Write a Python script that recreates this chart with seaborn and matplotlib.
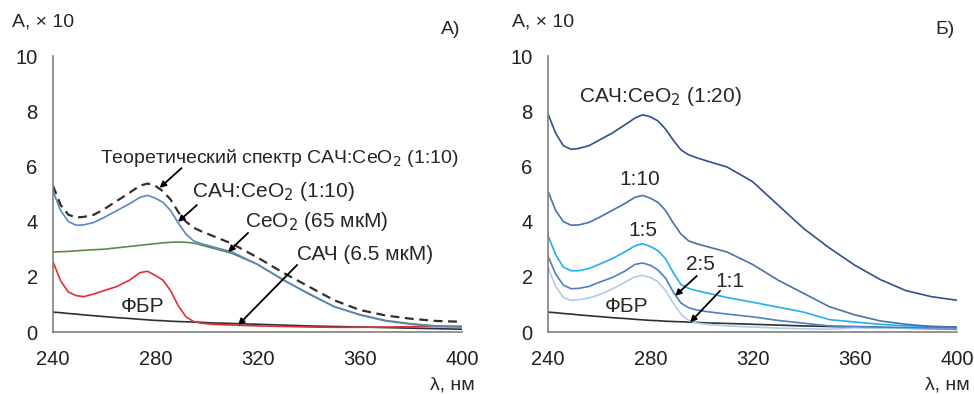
import numpy as np
import pandas as pd
import seaborn as sns
import matplotlib.pyplot as plt

# длины волн, нм
wl = [240, 243, 246, 249, 252, 256, 260, 265, 270, 274, 277, 280, 283, 286, 289,
      292, 295, 298, 302, 310, 320, 330, 340, 350, 360, 370, 380, 390, 400]

# А) спектры
theor_1_10 = [5.3, 4.6, 4.25, 4.15, 4.17, 4.25, 4.45, 4.75, 5.05, 5.3, 5.38, 5.3, 5.1, 4.8, 4.35,
              4.0, 3.78, 3.65, 3.5, 3.2, 2.7, 2.15, 1.65, 1.15, 0.8, 0.6, 0.48, 0.4, 0.37]
sac_ceo2_1_10 = [5.1, 4.4, 4.0, 3.87, 3.88, 3.97, 4.15, 4.4, 4.65, 4.88, 4.95, 4.85, 4.7, 4.4, 3.95,
                 3.55, 3.3, 3.2, 3.1, 2.9, 2.45, 1.88, 1.4, 0.92, 0.62, 0.4, 0.28, 0.2, 0.18]
ceo2 = [2.9, 2.91, 2.92, 2.94, 2.96, 2.98, 3.0, 3.05, 3.1, 3.14, 3.17, 3.2, 3.23, 3.25, 3.26,
        3.25, 3.22, 3.15, 3.05, 2.85, 2.45, 1.9, 1.38, 0.92, 0.63, 0.42, 0.3, 0.22, 0.2]
sac = [2.55, 1.85, 1.45, 1.32, 1.28, 1.38, 1.5, 1.65, 1.88, 2.15, 2.2, 2.05, 1.88, 1.5, 0.95,
       0.55, 0.38, 0.32, 0.28, 0.25, 0.22, 0.2, 0.18, 0.17, 0.17, 0.18, 0.19, 0.2, 0.2]
fbr = [0.72, 0.7, 0.67, 0.65, 0.62, 0.59, 0.56, 0.52, 0.49, 0.46, 0.44, 0.42, 0.41, 0.39, 0.38,
       0.37, 0.36, 0.35, 0.33, 0.31, 0.28, 0.25, 0.22, 0.2, 0.18, 0.16, 0.14, 0.12, 0.1]

# Б) разные соотношения
sac_ceo2_1_20 = [7.9, 7.2, 6.75, 6.62, 6.65, 6.75, 6.95, 7.2, 7.5, 7.75, 7.87, 7.8, 7.65, 7.35, 6.95,
                 6.6, 6.42, 6.32, 6.2, 5.98, 5.45, 4.6, 3.75, 3.05, 2.42, 1.9, 1.5, 1.28, 1.15]
sac_ceo2_1_5 = [3.5, 2.8, 2.35, 2.22, 2.22, 2.3, 2.45, 2.65, 2.9, 3.12, 3.2, 3.1, 2.95, 2.65, 2.15,
                1.72, 1.58, 1.5, 1.42, 1.25, 1.08, 0.9, 0.72, 0.45, 0.36, 0.28, 0.22, 0.2, 0.18]
sac_ceo2_2_5 = [2.75, 2.1, 1.7, 1.57, 1.58, 1.65, 1.8, 1.97, 2.2, 2.45, 2.5, 2.42, 2.25, 1.95, 1.45,
                1.05, 0.88, 0.8, 0.74, 0.65, 0.55, 0.42, 0.32, 0.22, 0.2, 0.18, 0.16, 0.15, 0.15]
sac_ceo2_1_1 = [2.35, 1.65, 1.25, 1.15, 1.17, 1.23, 1.35, 1.55, 1.8, 2.0, 2.05, 1.98, 1.82, 1.5, 1.05,
                0.65, 0.42, 0.33, 0.28, 0.22, 0.18, 0.14, 0.12, 0.1, 0.15, 0.14, 0.13, 0.12, 0.12]

xticks = [240, 280, 320, 360, 400]
yticks = [0, 2, 4, 6, 8, 10]

sns.set_style('white')
plt.rcParams['font.family'] = ['Liberation Sans', 'DejaVu Sans']

W, H = 974, 394
fig = plt.figure(figsize=(W / 100, H / 100), dpi=100)
axA = fig.add_axes([53 / W, 1 - 332 / H, 409 / W, 276 / H])
axB = fig.add_axes([548 / W, 1 - 332 / H, 409 / W, 276 / H])

lw = 1.2
sns.lineplot(x=wl, y=fbr, ax=axA, color='#303030', lw=lw)
sns.lineplot(x=wl, y=sac, ax=axA, color='#e03030', lw=lw)
sns.lineplot(x=wl, y=ceo2, ax=axA, color='#5f8a4a', lw=lw)
sns.lineplot(x=wl, y=sac_ceo2_1_10, ax=axA, color='#5a87c0', lw=lw)
sns.lineplot(x=wl, y=theor_1_10, ax=axA, color='#303030', lw=1.6, linestyle=(0, (4, 2.5)))

sns.lineplot(x=wl, y=fbr, ax=axB, color='#303030', lw=lw)
sns.lineplot(x=wl, y=sac_ceo2_1_1, ax=axB, color='#b0cbee', lw=lw)
sns.lineplot(x=wl, y=sac_ceo2_2_5, ax=axB, color='#4f7fc0', lw=lw)
sns.lineplot(x=wl, y=sac_ceo2_1_5, ax=axB, color='#1fb0f0', lw=lw)
sns.lineplot(x=wl, y=sac_ceo2_1_10, ax=axB, color='#4a72a8', lw=lw)
sns.lineplot(x=wl, y=sac_ceo2_1_20, ax=axB, color='#2f4f8f', lw=lw)

for ax in (axA, axB):
    ax.set_xlim(240, 400)
    ax.set_ylim(0, 10)
    ax.set_xticks(xticks)
    ax.set_yticks(yticks)
    sns.despine(ax=ax)
    for s in ('left', 'bottom'):
        ax.spines[s].set_color('#808080')
        ax.spines[s].set_linewidth(1.2)
    ax.tick_params(axis='both', direction='out', length=5, width=1.2, color='#808080',
                   labelsize=14.5, labelcolor='#202020')
    ax.tick_params(axis='y', pad=6)
    ax.tick_params(axis='x', pad=8)

# подписи осей и панелей (в пикселях)
def ftext(px, py, s, **kw):
    fig.text(px / W, 1 - py / H, s, fontsize=14, va='center', **kw)

ftext(12, 22, 'А, × 10', ha='left')
ftext(512, 22, 'А, × 10', ha='left')
ftext(460, 30, 'А)', ha='right')
ftext(955, 30, 'Б)', ha='right')
ftext(475, 385, 'λ, нм', ha='right')
ftext(970, 385, 'λ, нм', ha='right')

arr = dict(arrowstyle='-|>', color='black', lw=1.3, mutation_scale=9, shrinkA=0, shrinkB=0)
fs = 15

def arrow(ax, tail, head):
    ax.annotate('', xy=head, xytext=tail, arrowprops=arr)

axA.text(258.4, 6.3, 'Теоретический спектр САЧ:CeO$_2$ (1:10)', fontsize=14, ha='left', va='center')
arrow(axA, (290.3, 5.94), (281.7, 5.22))
axA.text(294.4, 5.1, 'САЧ:CeO$_2$ (1:10)', fontsize=fs, ha='left', va='center')
arrow(axA, (296.3, 4.6), (288.9, 3.99))
axA.text(315.1, 4.0, 'CeO$_2$ (65 мкМ)', fontsize=fs, ha='left', va='center')
arrow(axA, (316.3, 3.59), (308.5, 2.9))
axA.text(335.5, 2.8, 'САЧ (6.5 мкМ)', fontsize=fs, ha='left', va='center')
arrow(axA, (335.5, 2.43), (312.4, 0.25))
axA.text(275, 0.92, 'ФБР', fontsize=fs, ha='center', va='center')

axB.text(283.8, 8.55, 'САЧ:CeO$_2$ (1:20)', fontsize=fs, ha='center', va='center')
axB.text(276, 5.52, '1:10', fontsize=fs, ha='center', va='center')
axB.text(277.2, 3.68, '1:5', fontsize=fs, ha='center', va='center')
axB.text(299.5, 2.45, '2:5', fontsize=fs, ha='center', va='center')
arrow(axB, (298.2, 2.03), (289.7, 1.31))
axB.text(311.2, 1.84, '1:1', fontsize=fs, ha='center', va='center')
arrow(axB, (307.3, 1.49), (295.6, 0.35))
axB.text(270.7, 0.94, 'ФБР', fontsize=fs, ha='center', va='center')

fig.savefig('out.png', dpi=100)
